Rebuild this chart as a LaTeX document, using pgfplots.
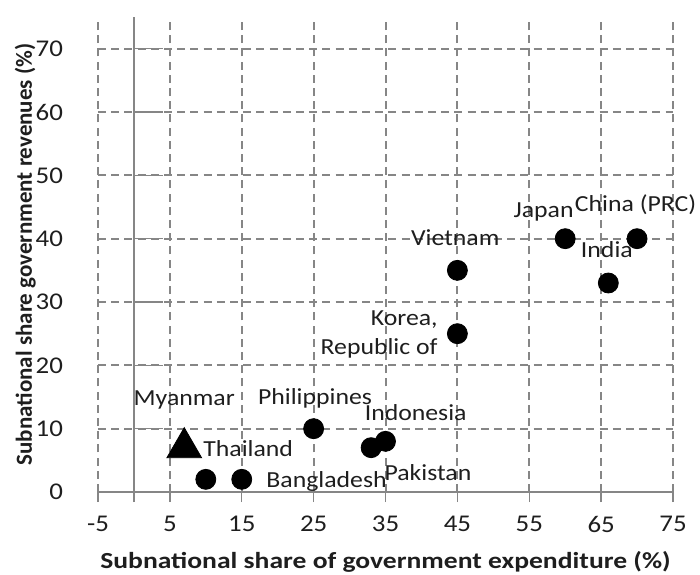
\documentclass[border=0pt]{standalone}
\usepackage{fontspec}
\setmainfont{Carlito}[FakeStretch=1.12]
\newfontfamily\xlabfont{Carlito}[FakeStretch=1.2]
\newfontfamily\ylabfont{Carlito}
\usepackage{pgfplots}
\pgfplotsset{compat=1.18}
\definecolor{gridgray}{RGB}{134,134,134}
\definecolor{txt}{RGB}{30,30,30}
\begin{document}
\fontsize{11.5pt}{14pt}\selectfont
\begin{tikzpicture}
\begin{axis}[
  scale only axis,
  width=287.5pt, height=237.5pt,
  xmin=-5, xmax=75, ymin=0, ymax=75,
  xtick={-5,5,...,75}, ytick={0,10,...,70},
  axis lines=left, axis line style={-},
  x axis line style={draw=gridgray, line width=0.7pt},
  y axis line style={draw=none},
  xtick style={draw=gridgray, line width=0.7pt},
  ytick style={draw=none},
  xtick align=outside, major tick length=5pt,
  grid=major,
  major grid style={draw=gridgray, line width=1pt, dash pattern=on 4pt off 2.6pt},
  /pgf/number format/assume math mode=true,
  tick label style={font=\fontsize{12pt}{14pt}\selectfont, text=txt},
  yticklabel style={xshift=-11pt},
  xticklabel style={yshift=-3pt},
  clip=false,
]
\draw[gridgray, line width=0.7pt] ([yshift=-5pt]axis cs:0,0) -- (axis cs:0,75);
\pgfplotsinvokeforeach{10,20,...,70}{\draw[gridgray, line width=0.7pt] (axis cs:0,#1) -- ++(-3.5pt,0);}
\addplot[only marks, mark=*, mark size=5pt, black] coordinates {
  (10,2) (15,2) (25,10) (33,7) (35,8) (45,25) (45,35) (60,40) (70,40) (66,33)
};
\addplot[only marks, mark=triangle*, mark size=10pt, black] coordinates {(7,7)};
\begin{scope}[every node/.style={text=txt, inner sep=0pt}]
\node at (axis cs:7.0,14.5) {Myanmar};
\node at (axis cs:15.9,6.9) {Thailand};
\node at (axis cs:26.8,1.7) {Bangladesh};
\node at (axis cs:25.2,14.8) {Philippines};
\node at (axis cs:39.2,12.5) {Indonesia};
\node at (axis cs:40.9,3.0) {Pakistan};
\node[anchor=east, align=right] at (axis cs:42.3,24.9) {Korea,\\[0.5pt]Republic of};
\node at (axis cs:44.7,40.2) {Vietnam};
\node at (axis cs:57.0,44.2) {Japan};
\node at (axis cs:69.8,45.3) {China (PRC)};
\node at (axis cs:65.8,38.2) {India};
\node[anchor=base] at ([yshift=-38pt]rel axis cs:0.5,0) {\fontsize{11.5pt}{14pt}\xlabfont\bfseries Subnational share of government expenditure (\%)};
\node[anchor=base, rotate=90] at ([xshift=-33pt]rel axis cs:0,0.5) {\fontsize{11.5pt}{14pt}\ylabfont\bfseries Subnational share government revenues (\%)};
\end{scope}
\end{axis}
\path ([shift={(-49pt,246pt)}]current axis.south west) -- ([shift={(301pt,-41pt)}]current axis.south west);
\end{tikzpicture}
\end{document}
